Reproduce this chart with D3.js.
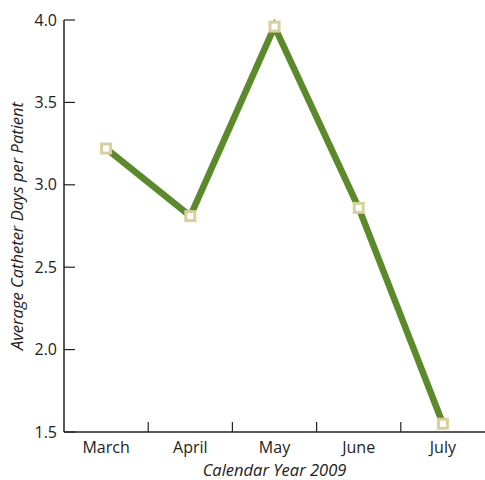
<!DOCTYPE html>
<html><head><meta charset="utf-8">
<script src="https://cdn.jsdelivr.net/npm/d3@7"></script>
<style>body{margin:0;background:#fff}svg{display:block}text{font-family:"Open Sans","Noto Sans",sans-serif;fill:#222}</style>
</head><body><svg id="c" width="485" height="480"></svg>
<script>
const months = ["March","April","May","June","July"];
const values = [3.22, 2.81, 3.96, 2.86, 1.55];
const yTicks = [1.5, 2.0, 2.5, 3.0, 3.5, 4.0];

const svg = d3.select("#c");
const m = {l:64, r:485, t:20, b:432};
const x = d3.scaleBand().domain(months).range([m.l, m.r]);
const y = d3.scaleLinear().domain([1.5, 4.0]).range([m.b, m.t]);

// y axis
svg.append("line").attr("x1",m.l).attr("x2",m.l).attr("y1",m.t).attr("y2",m.b).attr("stroke","#222").attr("stroke-width",1.5);
yTicks.forEach(t=>{
  svg.append("line").attr("x1",m.l).attr("x2",m.l+11).attr("y1",y(t)).attr("y2",y(t)).attr("stroke","#222").attr("stroke-width",1.2);
  svg.append("text").attr("x",m.l-7).attr("y",y(t)).attr("dy","0.35em").attr("text-anchor","end").attr("font-size",16).text(d3.format(".1f")(t));
});
// x axis
svg.append("line").attr("x1",m.l).attr("x2",m.r).attr("y1",m.b).attr("y2",m.b).attr("stroke","#222").attr("stroke-width",1.5);
months.slice(1).forEach(mo=>{
  svg.append("line").attr("x1",x(mo)).attr("x2",x(mo)).attr("y1",m.b).attr("y2",m.b-10).attr("stroke","#222").attr("stroke-width",1.2);
});
months.forEach(mo=>{
  svg.append("text").attr("x",x(mo)+x.bandwidth()/2).attr("y",453).attr("text-anchor","middle").attr("font-size",16).text(mo);
});
svg.append("text").attr("x",(m.l+m.r)/2).attr("y",476).attr("text-anchor","middle").attr("font-size",16.5).attr("font-style","italic").text("Calendar Year 2009");
svg.append("text").attr("transform",`translate(23,${(m.t+m.b)/2}) rotate(-90)`).attr("text-anchor","middle").attr("font-size",16.5).attr("font-style","italic").text("Average Catheter Days per Patient");

// line
const line = d3.line().x((d,i)=>x(months[i])+x.bandwidth()/2).y(d=>y(d));
svg.append("path").datum(values).attr("d",line).attr("fill","none").attr("stroke","#5b8a2a").attr("stroke-width",6.5).attr("stroke-linejoin","miter");
svg.selectAll("rect.pt").data(values).join("rect").attr("class","pt")
  .attr("x",(d,i)=>x(months[i])+x.bandwidth()/2-4.5).attr("y",d=>y(d)-4.5)
  .attr("width",9).attr("height",9).attr("fill","#fff").attr("stroke","#d8cf9b").attr("stroke-width",3);
</script></body></html>
